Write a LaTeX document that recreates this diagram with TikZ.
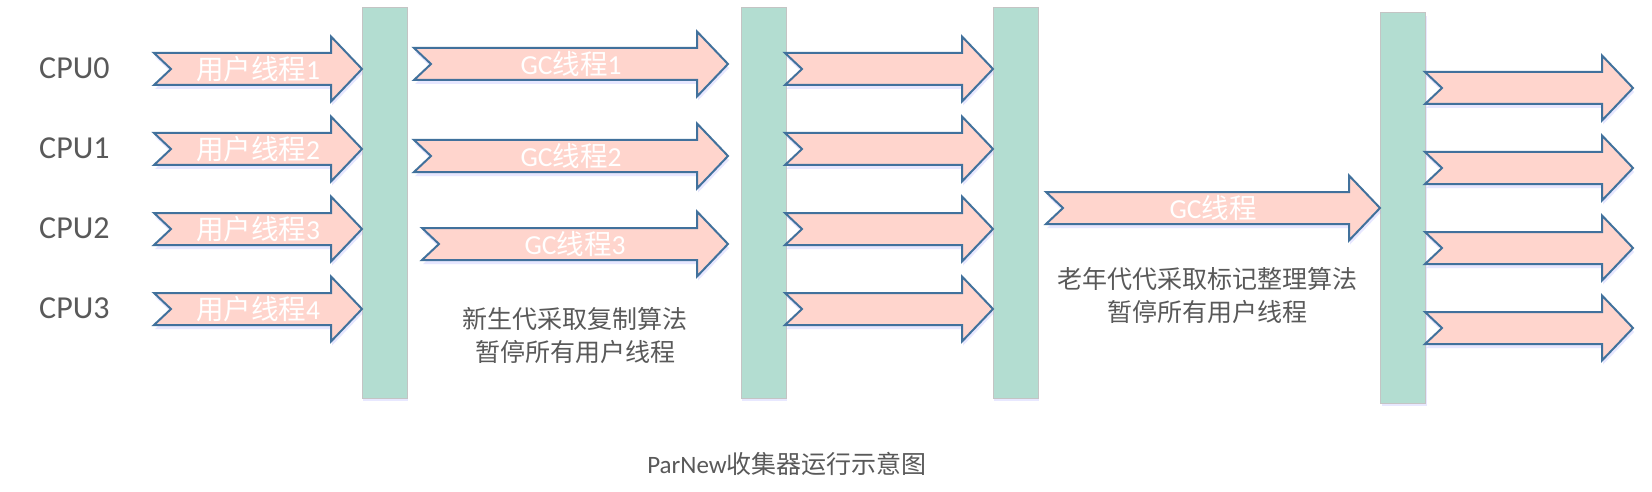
\documentclass[tikz,border=0pt]{standalone}
\usepackage{fontspec}
\setmainfont{Carlito}
\newfontfamily\cjk{Noto Sans CJK SC}
\usetikzlibrary{shadows}
\definecolor{barfill}{HTML}{B3DDD1}
\definecolor{barline}{HTML}{C4C4C4}
\definecolor{arrfill}{HTML}{FFD5CD}
\definecolor{arrline}{HTML}{41719C}
\definecolor{txt}{HTML}{595959}
\tikzset{
  bar/.style={draw=barline, line width=1pt, fill=barfill, minimum width=45pt, inner sep=0pt,
    drop shadow={shadow xshift=1pt, shadow yshift=-3pt, fill=blue!25, opacity=0.35}},
  arr/.style={draw=arrline, line width=2pt, fill=arrfill, line join=miter,
    drop shadow={shadow xshift=1pt, shadow yshift=-4pt, fill=blue!30, opacity=0.3}},
  inner/.style={text=white, font=\fontsize{27.5}{30}\selectfont, inner sep=0pt},
  cpulbl/.style={text=txt, font=\fontsize{32}{36}\selectfont, inner sep=0pt},
  note/.style={text=txt, font=\fontsize{25}{33}\selectfont\cjk, align=center, inner sep=0pt},
}
\newcommand\bigarrow[5]{%
  \draw[arr] (#2,#4-16) -- (#3-31,#4-16) -- (#3-31,#4-32.5) -- (#3,#4)
     -- (#3-31,#4+32.5) -- (#3-31,#4+16) -- (#2,#4+16) -- (#2+17,#4) -- cycle;
  \node[inner] (#1) at ({(#2+#3)/2},#4) {#5};}
\begin{document}
\begin{tikzpicture}[x=1pt,y=-1pt]
\useasboundingbox[fill=white] (0,0) rectangle (1652,492);
% bars
\node[bar, minimum height=390pt] (b1) at (384.5,203) {};
\node[bar, minimum height=390pt] (b2) at (763.5,203) {};
\node[bar, minimum height=390pt] (b3) at (1015.5,203) {};
\node[bar, minimum height=390pt] (b4) at (1403,208) {};
% CPU labels
\node[cpulbl, anchor=west] (c0) at (39,68) {CPU0};
\node[cpulbl, anchor=west] (c1) at (39,148) {CPU1};
\node[cpulbl, anchor=west] (c2) at (39,228) {CPU2};
\node[cpulbl, anchor=west] (c3) at (39,308) {CPU3};
% user threads
\bigarrow{u1}{154}{362}{69}{{\cjk 用户线程}1}
\bigarrow{u2}{154}{362}{149}{{\cjk 用户线程}2}
\bigarrow{u3}{154}{362}{229}{{\cjk 用户线程}3}
\bigarrow{u4}{154}{362}{309}{{\cjk 用户线程}4}
% young GC threads
\bigarrow{g1}{414}{728}{64}{GC{\cjk 线程}1}
\bigarrow{g2}{414}{728}{156}{GC{\cjk 线程}2}
\bigarrow{g3}{422}{728}{244}{GC{\cjk 线程}3}
% user threads between bar2 and bar3
\bigarrow{m1}{785}{993}{69}{}
\bigarrow{m2}{785}{993}{149}{}
\bigarrow{m3}{785}{993}{229}{}
\bigarrow{m4}{785}{993}{309}{}
% old GC thread
\bigarrow{og}{1046}{1380}{208}{GC{\cjk 线程}}
% after bar4
\bigarrow{r1}{1425}{1633}{88}{}
\bigarrow{r2}{1425}{1633}{168}{}
\bigarrow{r3}{1425}{1633}{248}{}
\bigarrow{r4}{1425}{1633}{328}{}
% notes
\node[note] (n1) at (575,336) {新生代采取复制算法\\暂停所有用户线程};
\node[note] (n2) at (1207,296) {老年代代采取标记整理算法\\暂停所有用户线程};
\node[text=txt, font=\fontsize{25}{30}\selectfont, inner sep=0pt] (cap) at (787,464) {ParNew{\cjk 收集器运行示意图}};
\end{tikzpicture}
\end{document}
